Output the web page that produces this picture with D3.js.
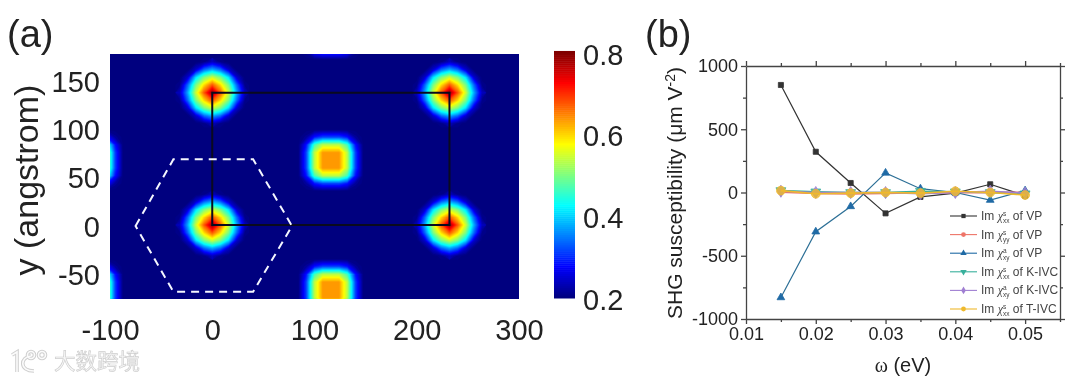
<!DOCTYPE html>
<html>
<head>
<meta charset="utf-8">
<script src="https://cdn.jsdelivr.net/npm/d3@7"></script>
<style>
  html, body { margin: 0; padding: 0; background: #fff; }
  text { font-family: "Liberation Sans", Arial, sans-serif; fill: #222; }
  svg { filter: blur(0.4px); }
</style>
</head>
<body>
<div id="vis"></div>
<script>
// panel (a): spot centres in angstrom
const roundSpotX = [0, 232, 0, 232];
const roundSpotY = [1, 1, 138, 138];
const squareSpotX = [116, 116, -119, -119, 116];
const squareSpotY = [68, -66, 68, -66, 204];

const patchStep = 8;
const roundPatch = [
  [.20, .20, .20, .21, .24, .21, .20, .20, .20],
  [.20, .20, .25, .34, .38, .34, .25, .20, .20],
  [.20, .25, .41, .50, .55, .50, .41, .25, .20],
  [.21, .34, .50, .60, .68, .60, .50, .34, .21],
  [.24, .38, .55, .68, .80, .68, .55, .38, .24],
  [.21, .34, .50, .60, .68, .60, .50, .34, .21],
  [.20, .25, .41, .50, .55, .50, .41, .25, .20],
  [.20, .20, .25, .34, .38, .34, .25, .20, .20],
  [.20, .20, .20, .21, .24, .21, .20, .20, .20],
];
const squarePatch = [
  [.20, .20, .20, .20, .20, .20, .20, .20, .20],
  [.20, .22, .29, .32, .32, .32, .29, .22, .20],
  [.20, .29, .47, .54, .54, .54, .47, .29, .20],
  [.20, .32, .54, .64, .64, .64, .54, .32, .20],
  [.20, .32, .54, .64, .64, .64, .54, .32, .20],
  [.20, .32, .54, .64, .64, .64, .54, .32, .20],
  [.20, .29, .47, .54, .54, .54, .47, .29, .20],
  [.20, .22, .29, .32, .32, .32, .29, .22, .20],
  [.20, .20, .20, .20, .20, .20, .20, .20, .20],
];

const cellX = [0, 232, 232, 0];
const cellY = [138, 138, 1, 1];
const hexX = [-75, -38, 40, 78, 40, -38];
const hexY = [0, 69, 69, 0, -68, -68];

const heatXTicks = [-100, 0, 100, 200, 300];
const heatYTicks = [-50, 0, 50, 100, 150];
const barTicks = [0.2, 0.4, 0.6, 0.8];
const jetValues = [0.2, 0.275, 0.425, 0.575, 0.725, 0.8];
const jetColors = ['#00007f', '#0000ff', '#00ffff', '#ffff00', '#ff0000', '#7f0000'];

// panel (b)
const omega = [0.015, 0.02, 0.025, 0.03, 0.035, 0.04, 0.045, 0.05];
const vpXX = [850, 322, 75, -165, -35, -5, 65, -25];
const vpYY = [5, -5, -10, -5, 0, 0, 0, 0];
const vpXY = [-830, -310, -110, 155, 30, 0, -60, 15];
const kivcXX = [15, 5, 0, 0, 10, 5, 0, -10];
const kivcXY = [10, 0, 0, 0, -10, 0, 10, -5];
const tivcXX = [15, -10, -5, 0, -5, 10, 0, -20];

const seriesValues = [vpXX, vpYY, vpXY, kivcXX, kivcXY, tivcXX];
const seriesColors = ['#333333', '#ee7468', '#1f6aa5', '#38b09c', '#a07fd2', '#efb92c'];
const seriesSymbols = [d3.symbolSquare, d3.symbolCircle, d3.symbolTriangle,
  d3.symbolTriangle, d3.symbolDiamond, d3.symbolCircle];
const seriesSup = ['s', 's', 'a', 's', 'a', 's'];
const seriesSub = ['xx', 'yy', 'xy', 'xx', 'xy', 'xx'];
const seriesModel = ['VP', 'VP', 'VP', 'K-IVC', 'K-IVC', 'T-IVC'];

const susYMajor = [-1000, -500, 0, 500, 1000];
const susYMinor = [-750, -250, 250, 750];
const susXMajor = [0.01, 0.02, 0.03, 0.04, 0.05];
const susXMinor = [0.015, 0.025, 0.035, 0.045, 0.055];

const svg = d3.select('#vis')
  .append('svg')
  .attr('width', 1080)
  .attr('height', 381)
  .style('display', 'block');

const jet = d3.scaleLinear().domain(jetValues).range(jetColors);

// ---------- panel (a) ----------
const heatX = d3.scaleLinear().domain([-100, 300]).range([110, 519]);
const heatY = d3.scaleLinear().domain([-75.5, 178]).range([299, 54]);

svg.append('clipPath').attr('id', 'heat-clip')
  .append('rect')
  .attr('x', heatX(-100))
  .attr('y', heatY(178))
  .attr('width', heatX(300) - heatX(-100))
  .attr('height', heatY(-75.5) - heatY(178));

const heat = svg.append('g').attr('clip-path', 'url(#heat-clip)');
heat.append('rect')
  .attr('x', heatX(-100))
  .attr('y', heatY(178))
  .attr('width', heatX(300) - heatX(-100))
  .attr('height', heatY(-75.5) - heatY(178))
  .attr('fill', jet(0.2));

const levels = d3.range(0.205, 0.8, 0.01);

// one stack of filled contours per spot
function drawSpot(patch, cx, cy) {
  const n = patch.length;
  const half = (n - 1) / 2;
  const contours = d3.contours()
    .size([n, n])
    .thresholds(levels)(patch.flat());
  const toPlot = d3.geoTransform({
    point(x, y) {
      this.stream.point(
        heatX(cx + (x - 0.5 - half) * patchStep),
        heatY(cy - (y - 0.5 - half) * patchStep));
    },
  });
  heat.append('g')
    .selectAll('path')
    .data(contours)
    .enter()
    .append('path')
    .attr('d', d3.geoPath(toPlot))
    .attr('fill', (d) => jet(d.value));
}

roundSpotX.forEach((x, i) => drawSpot(roundPatch, x, roundSpotY[i]));
squareSpotX.forEach((x, i) => drawSpot(squarePatch, x, squareSpotY[i]));

const cellLine = d3.line()
  .x((d) => heatX(cellX[d]))
  .y((d) => heatY(cellY[d]))
  .curve(d3.curveLinearClosed);
svg.append('path')
  .attr('d', cellLine(d3.range(cellX.length)))
  .attr('fill', 'none')
  .attr('stroke', '#0a0a1e')
  .attr('stroke-width', 2);

const hexLine = d3.line()
  .x((d) => heatX(hexX[d]))
  .y((d) => heatY(hexY[d]))
  .curve(d3.curveLinearClosed);
svg.append('path')
  .attr('d', hexLine(d3.range(hexX.length)))
  .attr('fill', 'none')
  .attr('stroke', '#f4f6ff')
  .attr('stroke-width', 2)
  .attr('stroke-dasharray', '8,6');

const heatXAxis = svg.append('g')
  .attr('transform', 'translate(0,299)')
  .call(d3.axisBottom(heatX).tickValues(heatXTicks).tickSize(0).tickFormat(String));
heatXAxis.select('.domain').remove();
heatXAxis.selectAll('text')
  .attr('y', 41).attr('dy', 0)
  .style('font-size', '29px');

const heatYAxis = svg.append('g')
  .attr('transform', 'translate(100,1)')
  .call(d3.axisLeft(heatY).tickValues(heatYTicks).tickSize(0).tickPadding(0).tickFormat(String));
heatYAxis.select('.domain').remove();
heatYAxis.selectAll('text').style('font-size', '29px');

svg.append('text')
  .attr('transform', 'translate(38,180)rotate(-90)')
  .attr('text-anchor', 'middle')
  .style('font-size', '34px')
  .text('y (angstrom)');

svg.append('text')
  .attr('x', 7).attr('y', 47)
  .style('font-size', '38px')
  .text('(a)');

// colour bar
const barY = d3.scaleLinear().domain([0.2, 0.8]).range([298, 53]);
svg.append('g')
  .selectAll('rect')
  .data(d3.range(0.2, 0.8, 0.005))
  .enter()
  .append('rect')
  .attr('x', 554)
  .attr('width', 21)
  .attr('y', (d) => barY(d + 0.005))
  .attr('height', (d) => barY(d) - barY(d + 0.005) + 0.5)
  .attr('fill', (d) => jet(d));

const barAxis = svg.append('g')
  .attr('transform', 'translate(583,2)')
  .call(d3.axisRight(barY).tickValues(barTicks).tickSize(0).tickPadding(0).tickFormat(d3.format('.1f')));
barAxis.select('.domain').remove();
barAxis.selectAll('text').style('font-size', '29px');

// ---------- panel (b) ----------
const susX = d3.scaleLinear().domain([0.01, 0.055]).range([746, 1060]);
const susY = d3.scaleLinear().domain([-1000, 1000]).range([319, 66]);
const axisColor = '#444';

// one side of the frame: major ticks with labels, minor ticks without
function frameAxis(axisFn, scale, pos, major, minor, labelled, format) {
  const g = svg.append('g').attr('transform', pos);
  g.call(axisFn(scale).tickValues(major).tickSize(5).tickPadding(3)
    .tickSizeOuter(0).tickFormat(labelled ? format : ''));
  g.append('g').call(axisFn(scale).tickValues(minor).tickSize(3).tickSizeOuter(0).tickFormat(''))
    .select('.domain').remove();
  g.selectAll('path, line').attr('stroke', axisColor).attr('stroke-width', 1.3);
  g.selectAll('text').style('font-size', '18px').style('font-family', null);
  return g;
}
frameAxis(d3.axisBottom, susX, 'translate(0,319)', susXMajor, susXMinor, true, d3.format('.2f'));
frameAxis(d3.axisTop, susX, 'translate(0,66)', susXMajor, susXMinor, false);
frameAxis(d3.axisLeft, susY, 'translate(746,0)', susYMajor, susYMinor, true, String);
frameAxis(d3.axisRight, susY, 'translate(1060,0)', susYMajor, susYMinor, false);

const line = d3.line()
  .x((d, i) => susX(omega[i]))
  .y((d) => susY(d));

seriesValues.forEach((values, s) => {
  const g = svg.append('g');
  g.append('path')
    .attr('d', line(values))
    .attr('fill', 'none')
    .attr('stroke', s === 2 ? '#2c6f96' : seriesColors[s])
    .attr('stroke-width', s === 1 ? 2.2 : (s > 2 ? 1.6 : 1.2));
  g.selectAll('path.mark')
    .data(values)
    .enter()
    .append('path')
    .attr('class', 'mark')
    .attr('transform', (d, i) => 'translate(' + susX(omega[i]) + ',' + susY(d) + ')' +
      (s === 3 ? 'rotate(180)' : ''))
    .attr('d', d3.symbol().type(seriesSymbols[s]).size(s === 5 ? 60 : (s > 2 ? 42 : 26)))
    .attr('fill', seriesColors[s])
    .attr('fill-opacity', s > 2 ? 0.8 : 1)
    .attr('stroke', seriesColors[s])
    .attr('stroke-width', 0.8);
});

// legend
const legendY = d3.scalePoint().domain(d3.range(6)).range([216, 309]);
seriesModel.forEach((model, s) => {
  const g = svg.append('g').attr('transform', 'translate(0,' + legendY(s) + ')');
  g.append('line')
    .attr('x1', 950).attr('x2', 977)
    .attr('stroke', seriesColors[s])
    .attr('stroke-width', 1.1);
  g.append('path')
    .attr('transform', 'translate(963.5,0)' + (s === 3 ? 'rotate(180)' : ''))
    .attr('d', d3.symbol().type(seriesSymbols[s]).size(18))
    .attr('fill', seriesColors[s]);
  const t = g.append('text')
    .attr('x', 981).attr('y', 4)
    .style('font-size', '12px')
    .style('fill', '#444');
  t.append('tspan').text('Im ');
  t.append('tspan').style('font-family', '"Liberation Serif"').style('font-style', 'italic').text('χ');
  const sup = t.append('tspan').attr('dy', -4).style('font-size', '6.5px').text(seriesSup[s]);
  const supLength = sup.node().getComputedTextLength();
  t.append('tspan').attr('dy', 7).attr('dx', -supLength).style('font-size', '6.5px').text(seriesSub[s]);
  t.append('tspan').attr('dy', -3).text(' of ' + model);
});

svg.append('text')
  .attr('transform', 'translate(682,193)rotate(-90)')
  .attr('text-anchor', 'middle')
  .style('font-size', '21px')
  .call((t) => {
    t.append('tspan').text('SHG susceptibility (μm V');
    t.append('tspan').attr('dy', -7).style('font-size', '14px').text('-2');
    t.append('tspan').attr('dy', 7).text(')');
  });

svg.append('text')
  .attr('x', 903).attr('y', 372)
  .attr('text-anchor', 'middle')
  .style('font-size', '20px')
  .call((t) => {
    t.append('tspan').style('font-family', '"Liberation Serif"').text('ω');
    t.append('tspan').text(' (eV)');
  });

svg.append('text')
  .attr('x', 645).attr('y', 47)
  .style('font-size', '38px')
  .text('(b)');

// ---------- watermark ----------
// grey outline first, white core on top
[['#cfcfcf', 3.6], ['#fbfbfb', 1.6]].forEach(([color, width]) => {
  const mark = svg.append('g')
    .attr('fill', 'none')
    .attr('stroke', color)
    .attr('stroke-width', width);
  mark.append('path').attr('d', 'M12 355 L17 352 L17 372 M31 356 C20 357 19 371 34 371');
  mark.append('circle').attr('cx', 31).attr('cy', 355).attr('r', 3.5);
  mark.append('circle').attr('cx', 42).attr('cy', 355).attr('r', 3.5);
});

svg.append('text')
  .attr('x', 54).attr('y', 369)
  .style('font-family', '"Noto Sans CJK SC"')
  .style('font-size', '21.5px')
  .style('fill', '#f7f7f7')
  .style('stroke', '#cfcfcf')
  .style('stroke-width', 0.7)
  .text('大数跨境');
</script>
</body>
</html>
